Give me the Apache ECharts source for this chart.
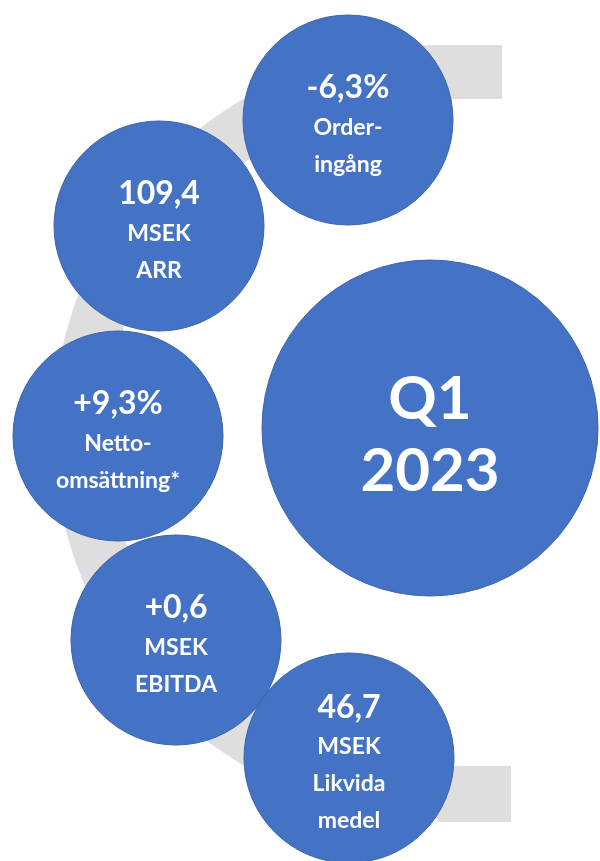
<!DOCTYPE html>
<html>
<head>
<meta charset="utf-8">
<script src="https://cdn.jsdelivr.net/npm/echarts@6/dist/echarts.min.js"></script>
<style>
  html, body { margin: 0; padding: 0; background: #ffffff; }
  #chart { width: 600px; height: 861px; }
</style>
</head>
<body>
<div id="chart"></div>
<script>
// key figures, one bubble each
const figures = ['-6,3%', '109,4', '+9,3%', '+0,6', '46,7'];
const captions = [['Order-', 'ingång'], ['MSEK', 'ARR'], ['Netto-', 'omsättning*'], ['MSEK', 'EBITDA'], ['MSEK', 'Likvida', 'medel']];
// bubble centres on the hidden 600 x 861 axes
const posX = [348, 159, 118, 176, 349];
const posY = [120, 226, 436, 640, 758];
// big period bubble
const period = ['Q1', '2023'];
const periodPos = [430, 428];

const chart = echarts.init(document.getElementById('chart'));

const bubbleData = figures.map((f, i) => ({
    value: [posX[i], posY[i]],
    label: {
        formatter: '{v|' + f + '}\n' + captions[i].map(c => '{t|' + c + '}').join('\n')
    }
}));

const option = {
    backgroundColor: '#ffffff',
    animation: false,
    grid: { left: 0, right: 0, top: 0, bottom: 0 },
    xAxis: { type: 'value', min: 0, max: 600, show: false },
    yAxis: { type: 'value', min: 0, max: 861, inverse: true, show: false },
    // light grey bracket behind the bubbles
    graphic: [
        {
            type: 'sector',
            z: 0,
            shape: { cx: 440, cy: 432, r0: 333, r: 387, startAngle: Math.PI / 2, endAngle: Math.PI * 1.5, clockwise: true },
            style: { fill: '#dedede' }
        },
        {
            type: 'rect', z: 0,
            shape: { x: 438, y: 45, width: 64, height: 54 },
            style: { fill: '#dedede' }
        },
        {
            type: 'rect', z: 0,
            shape: { x: 438, y: 766, width: 73, height: 56 },
            style: { fill: '#dedede' }
        }
    ],
    series: [
        {
            type: 'scatter',
            z: 5,
            symbol: 'circle',
            symbolSize: 336,
            itemStyle: { color: '#4472c4', borderColor: '#3a64ad', borderWidth: 1, opacity: 1 },
            label: {
                show: true,
                position: 'inside',
                offset: [0, 8],
                formatter: period.join('\n'),
                color: '#ffffff',
                fontFamily: 'Lato',
                fontWeight: 'bold',
                fontSize: 60,
                lineHeight: 72
            },
            data: [periodPos]
        },
        {
            type: 'scatter',
            z: 5,
            symbol: 'circle',
            symbolSize: 210,
            itemStyle: { color: '#4472c4', borderColor: '#3a64ad', borderWidth: 1, opacity: 1 },
            label: {
                show: true,
                position: 'inside',
                offset: [0, 5],
                color: '#ffffff',
                fontFamily: 'Lato',
                fontWeight: 'bold',
                rich: {
                    v: { color: '#ffffff', fontFamily: 'Lato', fontWeight: 'bold', fontSize: 32, lineHeight: 42 },
                    t: { color: '#ffffff', fontFamily: 'Lato', fontWeight: 'bold', fontSize: 23, lineHeight: 37 }
                }
            },
            data: bubbleData
        }
    ]
};

chart.setOption(option);
</script>
</body>
</html>
